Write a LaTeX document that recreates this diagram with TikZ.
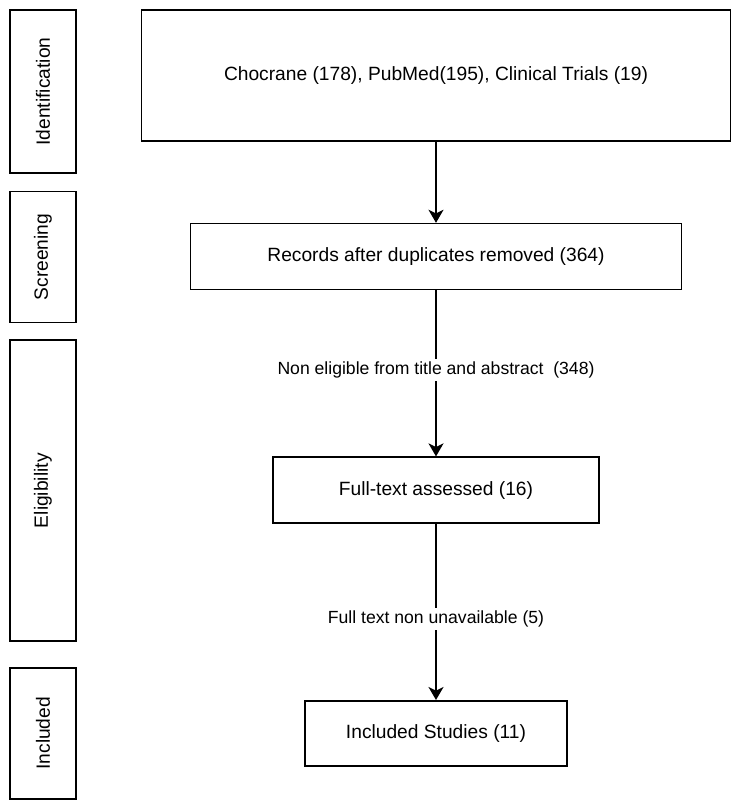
\documentclass[tikz,border=0pt]{standalone}
\usepackage{fontspec}
\setmainfont{Liberation Sans}
\usepackage{graphicx}
\usepackage{tikz}
\usetikzlibrary{arrows.meta,positioning}
\tikzset{
  stage/.style={draw, line width=0.8pt, minimum width=33pt, inner sep=1pt, font=\fontsize{9.6}{11}\selectfont},
  mbox/.style={draw, line width=0.8pt, align=center, inner sep=1.5pt, font=\fontsize{9.6}{11}\selectfont},
  lbl/.style={fill=white, inner sep=1.5pt, font=\fontsize{8.8}{10}\selectfont},
  arr/.style={-{Stealth[length=6.5pt, width=7.5pt, inset=1.8pt]}, line width=0.8pt}
}
\begin{document}
\begin{tikzpicture}[x=0.5pt, y=-0.5pt]
\useasboundingbox (0,0) rectangle (740,804);
\node[stage, minimum height=81.5pt] (ident) at (43,91.5) {\rotatebox{90}{Identification}};
\node[stage, minimum height=65.5pt, below=8.5pt of ident] (screen) {\rotatebox{90}{Screening}};
\node[stage, minimum height=150.5pt, below=8pt of screen] (elig) {\rotatebox{90}{Eligibility}};
\node[stage, minimum height=65.5pt, below=12.5pt of elig] (incl) {\rotatebox{90}{Included}};
\node[mbox, minimum width=294.5pt, minimum height=65.5pt] (recs) at (436,75.5) {Chocrane (178), PubMed(195), Clinical Trials (19)};
\node[mbox, minimum width=245.5pt, minimum height=33pt, below=40.5pt of recs] (dedup) {Records after duplicates removed (364)};
\node[mbox, minimum width=163pt, minimum height=33pt, below=83pt of dedup] (fulltxt) {Full-text assessed (16)};
\node[mbox, minimum width=131pt, minimum height=32.5pt, below=88pt of fulltxt] (incstud) {Included Studies (11)};
\draw[arr] (recs) -- (dedup);
\draw[arr] (dedup) -- node[lbl, pos=0.48] {Non eligible from title and abstract\ \ (348)} (fulltxt);
\draw[arr] (fulltxt) -- node[lbl, pos=0.54] {Full text non unavailable (5)} (incstud);
\end{tikzpicture}
\end{document}
